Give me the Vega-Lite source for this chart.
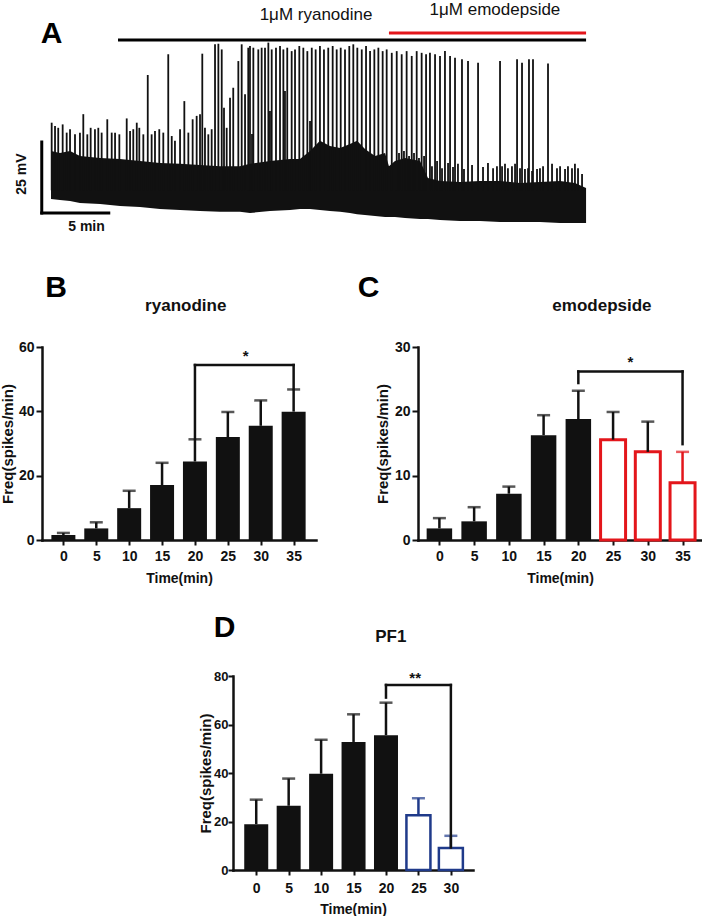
{
  "$schema": "https://vega.github.io/schema/vega-lite/v6.json",
  "padding": {"left": 0, "top": 1, "right": 0, "bottom": 0},
  "background": "white",
  "config": {
    "font": "Liberation Sans",
    "view": {"stroke": null},
    "axis": {"grid": false, "domainColor": "#111", "domainWidth": 2.5, "domainCap": "square", "tickColor": "#111", "tickWidth": 2, "tickSize": 6, "labelColor": "#111", "labelFontSize": 14, "labelFontWeight": "bold", "labelPadding": 2, "labelFlush": false, "titleColor": "#111", "titleFontSize": 15, "titleFontWeight": "bold"},
    "axisX": {"tickSize": 5, "labelPadding": 4, "titlePadding": 8, "titleFontSize": 14}
  },
  "bounds": "flush",
  "spacing": 106,
  "vconcat": [
    {
      "width": 558,
      "height": 240,
      "encoding": {
        "x": {"field": "t", "type": "quantitative", "scale": {"domain": [-0.672, 40.97], "nice": false, "zero": false}, "axis": null},
        "y": {"field": "v", "type": "quantitative", "scale": {"domain": [-9.86, 74.65], "nice": false, "zero": false}, "axis": null}
      },
      "layer": [
        {
          "data": {"values": [
            {"t": 0, "v": 4.9, "v2": 21.8}, {"t": 0.67, "v": 4.6, "v2": 21.1}, {"t": 1.42, "v": 4.2, "v2": 21.8}, {"t": 2.16, "v": 3.5, "v2": 20.1},
            {"t": 3.66, "v": 3.2, "v2": 19.4}, {"t": 5.15, "v": 2.5, "v2": 19.0}, {"t": 6.64, "v": 2.1, "v2": 18.3}, {"t": 8.13, "v": 1.4, "v2": 17.6},
            {"t": 9.63, "v": 1.1, "v2": 17.3}, {"t": 11.12, "v": 0.7, "v2": 16.9}, {"t": 12.61, "v": 0.4, "v2": 16.5}, {"t": 14.10, "v": 0.4, "v2": 16.5},
            {"t": 14.85, "v": 0, "v2": 17.3}, {"t": 16.34, "v": 0.7, "v2": 18.3}, {"t": 17.84, "v": 1.1, "v2": 19.0}, {"t": 18.58, "v": 1.4, "v2": 19.0},
            {"t": 19.33, "v": 1.4, "v2": 21.8}, {"t": 20.07, "v": 1.1, "v2": 25.4}, {"t": 20.82, "v": 0.7, "v2": 23.6}, {"t": 21.57, "v": 0.4, "v2": 22.9},
            {"t": 22.31, "v": 0, "v2": 24.3}, {"t": 22.84, "v": -0.4, "v2": 25.4}, {"t": 23.43, "v": -0.7, "v2": 22.5}, {"t": 24.18, "v": -1.1, "v2": 20.1},
            {"t": 24.93, "v": -1.4, "v2": 21.1}, {"t": 25.22, "v": -1.4, "v2": 16.5}, {"t": 25.67, "v": -1.4, "v2": 18.3}, {"t": 26.42, "v": -1.8, "v2": 19.4},
            {"t": 27.54, "v": -2.1, "v2": 18.3}, {"t": 28.13, "v": -2.1, "v2": 12.3}, {"t": 29.03, "v": -2.5, "v2": 11.3}, {"t": 30.52, "v": -2.8, "v2": 10.9},
            {"t": 32.01, "v": -2.8, "v2": 11.3}, {"t": 33.51, "v": -3.2, "v2": 11.3}, {"t": 35.0, "v": -3.2, "v2": 10.6}, {"t": 36.49, "v": -3.2, "v2": 10.9},
            {"t": 37.99, "v": -3.5, "v2": 11.3}, {"t": 39.10, "v": -3.5, "v2": 10.6}, {"t": 39.93, "v": -3.5, "v2": 8.8}
          ]},
          "mark": {"type": "area", "color": "#111", "interpolate": "linear"},
          "encoding": {"y2": {"field": "v2"}}
        },
        {
          "data": {"values": [
            {"t": 0.05, "v": 31.8}, {"t": 0.30, "v": 30.6}, {"t": 0.54, "v": 30.0}, {"t": 0.87, "v": 31.2}, {"t": 1.17, "v": 28.3}, {"t": 1.42, "v": 29.5},
            {"t": 1.79, "v": 27.7}, {"t": 2.16, "v": 28.3}, {"t": 2.41, "v": 34.8}, {"t": 2.71, "v": 27.7}, {"t": 2.96, "v": 30.0}, {"t": 3.28, "v": 29.5},
            {"t": 3.53, "v": 30.0}, {"t": 3.78, "v": 28.3}, {"t": 4.20, "v": 33.0}, {"t": 4.53, "v": 28.3}, {"t": 4.78, "v": 28.3}, {"t": 5.10, "v": 27.7},
            {"t": 5.65, "v": 33.3}, {"t": 5.90, "v": 28.9}, {"t": 6.14, "v": 29.5}, {"t": 6.40, "v": 31.8}, {"t": 6.59, "v": 30.0}, {"t": 6.89, "v": 27.7},
            {"t": 7.22, "v": 48.6}, {"t": 7.51, "v": 27.7}, {"t": 7.76, "v": 28.9}, {"t": 8.08, "v": 29.5}, {"t": 8.38, "v": 28.3}, {"t": 8.75, "v": 55.9},
            {"t": 9.01, "v": 27.1}, {"t": 9.25, "v": 25.4}, {"t": 9.63, "v": 29.5}, {"t": 9.95, "v": 39.4}, {"t": 10.25, "v": 28.3}, {"t": 10.57, "v": 33.0},
            {"t": 10.87, "v": 34.2}, {"t": 11.12, "v": 34.8}, {"t": 11.29, "v": 56.1}, {"t": 11.49, "v": 30.0}, {"t": 11.74, "v": 27.7}, {"t": 11.99, "v": 29.5},
            {"t": 12.24, "v": 59.4}, {"t": 12.49, "v": 59.6}, {"t": 12.74, "v": 57.6}, {"t": 12.91, "v": 37.1}, {"t": 13.11, "v": 30.0}, {"t": 13.36, "v": 40.6},
            {"t": 13.60, "v": 44.1}, {"t": 13.98, "v": 53.5}, {"t": 14.23, "v": 59.4}, {"t": 14.48, "v": 41.8}, {"t": 14.72, "v": 58.2},
            {"t": 14.85, "v": 58.8}, {"t": 15.0, "v": 27.8}, {"t": 15.10, "v": 58.2}, {"t": 15.47, "v": 57.6}, {"t": 15.72, "v": 58.2}, {"t": 15.97, "v": 58.2},
            {"t": 16.22, "v": 60.0}, {"t": 16.34, "v": 35.9}, {"t": 16.47, "v": 57.6}, {"t": 16.79, "v": 58.2}, {"t": 17.09, "v": 58.8}, {"t": 17.34, "v": 57.6},
            {"t": 17.46, "v": 43.0}, {"t": 17.63, "v": 58.2}, {"t": 17.96, "v": 57.0}, {"t": 18.21, "v": 57.6}, {"t": 18.53, "v": 58.8}, {"t": 18.83, "v": 58.2},
            {"t": 19.13, "v": 57.0}, {"t": 19.33, "v": 32.4}, {"t": 19.46, "v": 58.2}, {"t": 19.75, "v": 57.6}, {"t": 20.07, "v": 58.8}, {"t": 20.37, "v": 57.6},
            {"t": 20.69, "v": 58.2}, {"t": 21.02, "v": 58.8}, {"t": 21.32, "v": 57.6}, {"t": 21.62, "v": 58.2}, {"t": 21.94, "v": 57.6}, {"t": 22.26, "v": 58.8},
            {"t": 22.56, "v": 59.4}, {"t": 22.86, "v": 58.2}, {"t": 23.19, "v": 57.6}, {"t": 23.51, "v": 58.8}, {"t": 23.81, "v": 57.0}, {"t": 24.13, "v": 57.6},
            {"t": 24.43, "v": 58.2}, {"t": 24.75, "v": 57.0}, {"t": 25.05, "v": 57.6}, {"t": 25.43, "v": 56.4}, {"t": 25.80, "v": 57.0}, {"t": 26.17, "v": 55.9},
            {"t": 26.54, "v": 57.0}, {"t": 26.92, "v": 55.3}, {"t": 27.29, "v": 57.0}, {"t": 27.66, "v": 56.4}, {"t": 27.99, "v": 55.9}, {"t": 28.28, "v": 56.4},
            {"t": 28.66, "v": 55.9}, {"t": 29.03, "v": 55.3}, {"t": 29.40, "v": 57.0}, {"t": 29.78, "v": 55.3}, {"t": 30.15, "v": 54.7}, {"t": 30.67, "v": 54.1},
            {"t": 31.12, "v": 53.5}, {"t": 31.87, "v": 52.9}, {"t": 33.51, "v": 53.5}, {"t": 34.78, "v": 54.1}, {"t": 35.15, "v": 52.9}, {"t": 35.67, "v": 54.1},
            {"t": 35.97, "v": 54.1}, {"t": 37.09, "v": 52.6},
            {"t": 25.97, "v": 21.1}, {"t": 26.34, "v": 21.8}, {"t": 26.72, "v": 20.1}, {"t": 27.09, "v": 21.1}, {"t": 27.46, "v": 19.4}, {"t": 27.84, "v": 20.1},
            {"t": 28.43, "v": 16.5}, {"t": 28.81, "v": 18.3}, {"t": 29.18, "v": 15.8}, {"t": 29.63, "v": 17.6}, {"t": 30.0, "v": 16.2}, {"t": 30.37, "v": 17.3},
            {"t": 30.82, "v": 15.5}, {"t": 31.42, "v": 16.9}, {"t": 32.24, "v": 16.2}, {"t": 32.61, "v": 17.6}, {"t": 32.99, "v": 15.8}, {"t": 33.28, "v": 16.5},
            {"t": 33.66, "v": 16.5}, {"t": 33.88, "v": 17.3}, {"t": 34.10, "v": 15.8}, {"t": 34.40, "v": 16.5}, {"t": 34.63, "v": 17.3}, {"t": 35.0, "v": 15.8},
            {"t": 35.37, "v": 15.5}, {"t": 35.60, "v": 15.8}, {"t": 35.90, "v": 14.8}, {"t": 36.27, "v": 15.5}, {"t": 36.49, "v": 15.8}, {"t": 36.72, "v": 16.5},
            {"t": 37.39, "v": 17.3}, {"t": 37.76, "v": 15.8}, {"t": 37.99, "v": 16.5}, {"t": 38.36, "v": 15.5}, {"t": 38.58, "v": 16.5}, {"t": 38.88, "v": 15.8},
            {"t": 39.10, "v": 17.3}, {"t": 39.33, "v": 15.8}, {"t": 39.63, "v": 13.7}
          ]},
          "mark": {"type": "rule", "color": "#111", "strokeWidth": 1.8},
          "encoding": {"y2": {"datum": 8}}
        },
        {
          "data": {"values": [{"t": 5.0, "t2": 39.93, "v": 60.9, "v2": 60.9}]},
          "mark": {"type": "rule", "color": "#000", "strokeWidth": 3},
          "encoding": {"x2": {"field": "t2"}, "y2": {"field": "v2"}}
        },
        {
          "data": {"values": [{"t": 25.22, "t2": 39.93, "v": 63.4, "v2": 63.4}]},
          "mark": {"type": "rule", "color": "#e3161b", "strokeWidth": 3},
          "encoding": {"x2": {"field": "t2"}, "y2": {"field": "v2"}}
        },
        {
          "data": {"values": [{"t": -0.69, "t2": -0.69, "v": 0, "v2": 25}, {"t": -0.69, "t2": 4.31, "v": 0, "v2": 0}]},
          "mark": {"type": "rule", "color": "#000", "strokeWidth": 3, "strokeCap": "square"},
          "encoding": {"x2": {"field": "t2"}, "y2": {"field": "v2"}}
        },
        {
          "data": {"values": [{"t": 19.78, "v": 67.96, "label": "1μM ryanodine"}, {"t": 33.13, "v": 69.7, "label": "1μM emodepside"}]},
          "mark": {"type": "text", "fontSize": 17, "color": "#111", "baseline": "alphabetic", "align": "center"},
          "encoding": {"text": {"field": "label"}}
        },
        {
          "data": {"values": [{"t": 0.04, "v": 63.0, "label": "A"}]},
          "mark": {"type": "text", "fontSize": 30, "fontWeight": "bold", "color": "#000", "baseline": "middle", "align": "center"},
          "encoding": {"text": {"field": "label"}}
        },
        {
          "data": {"values": [{"t": -2.16, "v": 13.7, "label": "25 mV"}]},
          "mark": {"type": "text", "fontSize": 14, "fontWeight": "bold", "color": "#111", "baseline": "middle", "align": "center", "angle": 270},
          "encoding": {"text": {"field": "label"}}
        },
        {
          "data": {"values": [{"t": 2.65, "v": -4.93, "label": "5 min"}]},
          "mark": {"type": "text", "fontSize": 14, "fontWeight": "bold", "color": "#111", "baseline": "middle", "align": "center"},
          "encoding": {"text": {"field": "label"}}
        }
      ]
    },
    {
      "bounds": "flush",
      "spacing": 329,
      "vconcat": [
        {
          "bounds": "flush",
          "spacing": 102,
          "hconcat": [
            {
              "width": 274,
              "height": 193,
              "data": {"values": [
                {"time": 0, "mean": 1.55, "upper": 2.2}, {"time": 5, "mean": 3.6, "upper": 5.5}, {"time": 10, "mean": 9.9, "upper": 15.3},
                {"time": 15, "mean": 17.1, "upper": 24.0}, {"time": 20, "mean": 24.4, "upper": 31.3}, {"time": 25, "mean": 32.0, "upper": 39.8},
                {"time": 30, "mean": 35.5, "upper": 43.4}, {"time": 35, "mean": 39.9, "upper": 46.8}
              ]},
              "encoding": {
                "x": {"field": "time", "type": "quantitative", "scale": {"domain": [-2.49, 37.64], "nice": false, "zero": false}, "axis": {"values": [0, 5, 10, 15, 20, 25, 30, 35], "title": "Time(min)"}},
                "y": {"field": "mean", "type": "quantitative", "scale": {"domain": [0, 60], "nice": false}, "axis": {"values": [0, 20, 40, 60], "title": "Freq(spikes/min)", "titlePadding": 3}}
              },
              "layer": [
                {"mark": {"type": "bar", "width": 24, "color": "#111", "orient": "vertical"}},
                {"mark": {"type": "rule", "strokeWidth": 2.5, "color": "#111"}, "encoding": {"y2": {"field": "upper"}}},
                {"mark": {"type": "tick", "orient": "horizontal", "size": 13, "thickness": 2.5, "color": "#111"}, "encoding": {"y": {"field": "upper", "type": "quantitative"}}},
                {
                  "data": {"values": [{"time": 20, "time2": 35, "mean": 54.4, "mean2": 54.4}, {"time": 20, "time2": 20, "mean": 54.4, "mean2": 31.5}, {"time": 35, "time2": 35, "mean": 54.4, "mean2": 47}]},
                  "mark": {"type": "rule", "strokeWidth": 2.5, "color": "#111", "strokeCap": "square"},
                  "encoding": {"x2": {"field": "time2"}, "y2": {"field": "mean2"}}
                },
                {
                  "data": {"values": [{"time": 27.7, "mean": 57.2, "label": "*"}]},
                  "mark": {"type": "text", "fontSize": 15, "fontWeight": "bold", "color": "#111", "baseline": "middle"},
                  "encoding": {"text": {"field": "label"}}
                },
                {
                  "data": {"values": [{"time": -1.1, "mean": 78.3, "label": "B"}]},
                  "mark": {"type": "text", "fontSize": 30, "fontWeight": "bold", "color": "#000", "baseline": "middle"},
                  "encoding": {"text": {"field": "label"}}
                },
                {
                  "data": {"values": [{"time": 18.6, "mean": 72.7, "label": "ryanodine"}]},
                  "mark": {"type": "text", "fontSize": 17, "fontWeight": "bold", "color": "#111", "baseline": "middle"},
                  "encoding": {"text": {"field": "label"}}
                }
              ]
            },
            {
              "width": 284,
              "height": 193,
              "data": {"values": [
                {"time": 0, "mean": 1.8, "upper": 3.4, "group": "base"}, {"time": 5, "mean": 2.9, "upper": 5.1, "group": "base"},
                {"time": 10, "mean": 7.2, "upper": 8.3, "group": "base"}, {"time": 15, "mean": 16.3, "upper": 19.4, "group": "base"},
                {"time": 20, "mean": 18.8, "upper": 23.2, "group": "base"}, {"time": 25, "mean": 15.6, "upper": 19.9, "group": "drug"},
                {"time": 30, "mean": 13.7, "upper": 18.4, "group": "drug"}, {"time": 35, "mean": 8.9, "upper": 13.7, "group": "drug"}
              ]},
              "encoding": {
                "x": {"field": "time", "type": "quantitative", "scale": {"domain": [-2.36, 37.08], "nice": false, "zero": false}, "axis": {"values": [0, 5, 10, 15, 20, 25, 30, 35], "title": "Time(min)"}},
                "y": {"field": "mean", "type": "quantitative", "scale": {"domain": [0, 30], "nice": false}, "axis": {"values": [0, 10, 20, 30], "title": "Freq(spikes/min)", "titlePadding": 4}}
              },
              "layer": [
                {"transform": [{"filter": "datum.group === 'base'"}], "mark": {"type": "bar", "width": 25.5, "color": "#111", "orient": "vertical"}},
                {"transform": [{"filter": "datum.group === 'drug'"}], "mark": {"type": "bar", "width": 25, "fill": "white", "stroke": "#e3161b", "strokeWidth": 3, "orient": "vertical"}},
                {"transform": [{"filter": "datum.time < 32"}], "mark": {"type": "rule", "strokeWidth": 2.5, "color": "#111"}, "encoding": {"y2": {"field": "upper"}}},
                {"transform": [{"filter": "datum.time < 32"}], "mark": {"type": "tick", "orient": "horizontal", "size": 13, "thickness": 2.5, "color": "#111"}, "encoding": {"y": {"field": "upper", "type": "quantitative"}}},
                {"transform": [{"filter": "datum.time > 32"}], "mark": {"type": "rule", "strokeWidth": 2.5, "color": "#e3161b"}, "encoding": {"y2": {"field": "upper"}}},
                {"transform": [{"filter": "datum.time > 32"}], "mark": {"type": "tick", "orient": "horizontal", "size": 13, "thickness": 2.5, "color": "#e3161b"}, "encoding": {"y": {"field": "upper", "type": "quantitative"}}},
                {
                  "data": {"values": [{"time": 20, "time2": 35, "mean": 26.2, "mean2": 26.2}, {"time": 20, "time2": 20, "mean": 26.2, "mean2": 24.4}, {"time": 35, "time2": 35, "mean": 26.2, "mean2": 14.9}]},
                  "mark": {"type": "rule", "strokeWidth": 2.5, "color": "#111", "strokeCap": "square"},
                  "encoding": {"x2": {"field": "time2"}, "y2": {"field": "mean2"}}
                },
                {
                  "data": {"values": [{"time": 27.5, "mean": 27.6, "label": "*"}]},
                  "mark": {"type": "text", "fontSize": 15, "fontWeight": "bold", "color": "#111", "baseline": "middle"},
                  "encoding": {"text": {"field": "label"}}
                },
                {
                  "data": {"values": [{"time": -10.2, "mean": 39.2, "label": "C"}]},
                  "mark": {"type": "text", "fontSize": 30, "fontWeight": "bold", "color": "#000", "baseline": "middle"},
                  "encoding": {"text": {"field": "label"}}
                },
                {
                  "data": {"values": [{"time": 23.4, "mean": 36.4, "label": "emodepside"}]},
                  "mark": {"type": "text", "fontSize": 17, "fontWeight": "bold", "color": "#111", "baseline": "middle"},
                  "encoding": {"text": {"field": "label"}}
                }
              ]
            }
          ]
        },
        {
          "bounds": "flush",
          "spacing": 1,
          "hconcat": [
            {"width": 190, "height": 194, "data": {"values": []}, "mark": "point"},
            {
              "width": 240,
              "height": 194,
              "data": {"values": [
                {"time": 0, "mean": 18.9, "upper": 29.0, "group": "base"}, {"time": 5, "mean": 26.5, "upper": 37.7, "group": "base"},
                {"time": 10, "mean": 39.7, "upper": 53.7, "group": "base"}, {"time": 15, "mean": 52.8, "upper": 64.2, "group": "base"},
                {"time": 20, "mean": 55.6, "upper": 69.0, "group": "base"}, {"time": 25, "mean": 22.6, "upper": 29.6, "group": "drug"},
                {"time": 30, "mean": 9.1, "upper": 14.1, "group": "drug"}
              ]},
              "encoding": {
                "x": {"field": "time", "type": "quantitative", "scale": {"domain": [-2.81, 32.64], "nice": false, "zero": false}, "axis": {"values": [0, 5, 10, 15, 20, 25, 30], "title": "Time(min)", "labelPadding": 6, "titlePadding": 7}},
                "y": {"field": "mean", "type": "quantitative", "scale": {"domain": [0, 80], "nice": false}, "axis": {"values": [0, 20, 40, 60, 80], "title": "Freq(spikes/min)", "titlePadding": 0, "tickSize": 5, "labelPadding": 0, "labelFontSize": 13}}
              },
              "layer": [
                {"transform": [{"filter": "datum.group === 'base'"}], "mark": {"type": "bar", "width": 24, "color": "#111", "orient": "vertical"}},
                {"transform": [{"filter": "datum.group === 'drug'"}], "mark": {"type": "bar", "width": 24, "fill": "white", "stroke": "#1f3a8a", "strokeWidth": 2.5, "orient": "vertical"}},
                {"transform": [{"filter": "datum.group === 'base'"}], "mark": {"type": "rule", "strokeWidth": 2.5, "color": "#111"}, "encoding": {"y2": {"field": "upper"}}},
                {"transform": [{"filter": "datum.group === 'base'"}], "mark": {"type": "tick", "orient": "horizontal", "size": 13, "thickness": 2.5, "color": "#111"}, "encoding": {"y": {"field": "upper", "type": "quantitative"}}},
                {"transform": [{"filter": "datum.group === 'drug'"}], "mark": {"type": "rule", "strokeWidth": 2.5, "color": "#1f3a8a"}, "encoding": {"y2": {"field": "upper"}}},
                {"transform": [{"filter": "datum.group === 'drug'"}], "mark": {"type": "tick", "orient": "horizontal", "size": 13, "thickness": 2.5, "color": "#1f3a8a"}, "encoding": {"y": {"field": "upper", "type": "quantitative"}}},
                {
                  "data": {"values": [{"time": 20, "time2": 30, "mean": 76.3, "mean2": 76.3}, {"time": 20, "time2": 20, "mean": 76.3, "mean2": 71.1}, {"time": 30, "time2": 30, "mean": 76.3, "mean2": 9.3}]},
                  "mark": {"type": "rule", "strokeWidth": 2.5, "color": "#111", "strokeCap": "square"},
                  "encoding": {"x2": {"field": "time2"}, "y2": {"field": "mean2"}}
                },
                {
                  "data": {"values": [{"time": 24.5, "mean": 79.2, "label": "**"}]},
                  "mark": {"type": "text", "fontSize": 15, "fontWeight": "bold", "color": "#111", "baseline": "middle"},
                  "encoding": {"text": {"field": "label"}}
                },
                {
                  "data": {"values": [{"time": -4.87, "mean": 99.6, "label": "D"}]},
                  "mark": {"type": "text", "fontSize": 30, "fontWeight": "bold", "color": "#000", "baseline": "middle"},
                  "encoding": {"text": {"field": "label"}}
                },
                {
                  "data": {"values": [{"time": 20.75, "mean": 96.1, "label": "PF1"}]},
                  "mark": {"type": "text", "fontSize": 17, "fontWeight": "bold", "color": "#111", "baseline": "middle"},
                  "encoding": {"text": {"field": "label"}}
                }
              ]
            }
          ]
        }
      ]
    }
  ]
}
